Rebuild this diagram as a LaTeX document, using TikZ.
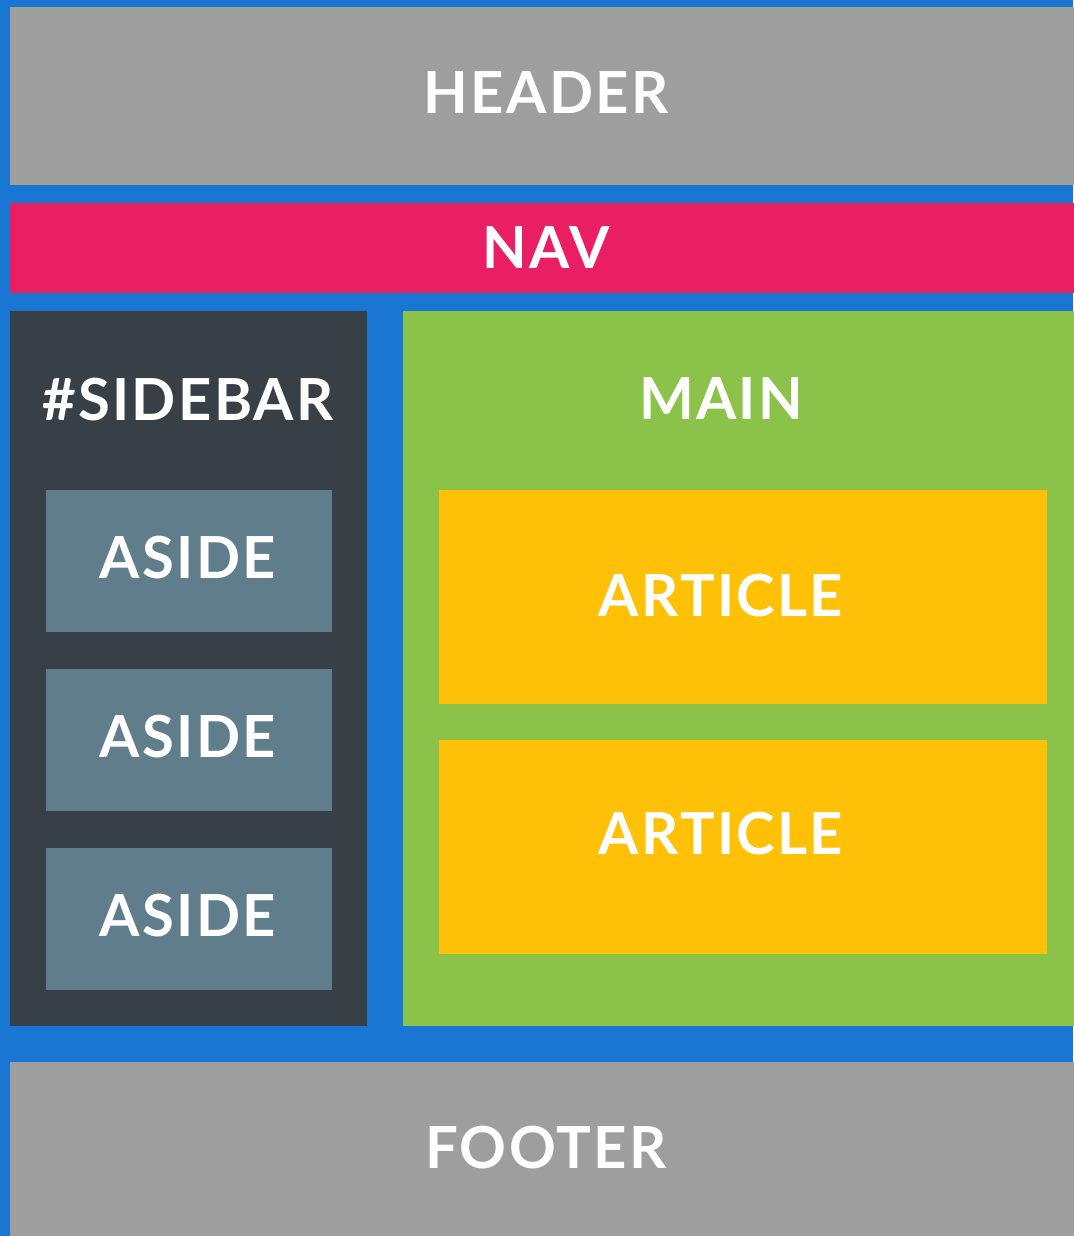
\documentclass[tikz,border=0pt]{standalone}
\usepackage{fontspec}
\setmainfont{Lato}
\newfontfamily\lblfont[LetterSpace=4]{Lato Bold}
\definecolor{bgblue}{HTML}{1976D2}
\definecolor{boxgray}{HTML}{9E9E9E}
\definecolor{navpink}{HTML}{E91E63}
\definecolor{sidedark}{HTML}{373F47}
\definecolor{asidegray}{HTML}{607D8B}
\definecolor{maingreen}{HTML}{8BC34A}
\definecolor{artyellow}{HTML}{FFC107}
\begin{document}
\begin{tikzpicture}[x=1pt,y=-1pt,
  box/.style={draw=none,inner sep=0pt,outer sep=0pt},
  lbl/.style={text=white,font=\fontsize{58}{58}\lblfont,inner sep=0pt,text height=41.5pt,text depth=0pt,anchor=center}]
\fill[bgblue] (0,0) rectangle (1073,1236);
\useasboundingbox (0,0) rectangle (1073,1236);
% boxes
\path[box,fill=boxgray] (10,7) rectangle (1080,185) node[midway] (header) {};
\path[box,fill=navpink] (10,203) rectangle (1080,293) node[midway] (nav) {};
\path[box,fill=sidedark] (10,311) rectangle (367,1026) node[midway] (sidebar) {};
\path[box,fill=maingreen] (403,311) rectangle (1080,1026) node[midway] (main) {};
\path[box,fill=asidegray] (46,490) rectangle (332,632) node[midway] (aside1) {};
\path[box,fill=asidegray] (46,669) rectangle (332,811) node[midway] (aside2) {};
\path[box,fill=asidegray] (46,848) rectangle (332,990) node[midway] (aside3) {};
\path[box,fill=artyellow] (439,490) rectangle (1047,704) node[midway] (article1) {};
\path[box,fill=artyellow] (439,740) rectangle (1047,954) node[midway] (article2) {};
\path[box,fill=boxgray] (10,1062) rectangle (1080,1250) node[midway] (footer) {};
% labels
\node[lbl] (theader) at (546,92.5) {HEADER};
\node[lbl] (tnav) at (546,248) {NAV};
\node[lbl] (tsidebar) at (188,400) {\#SIDEBAR};
\node[lbl] (tmain) at (721,399) {MAIN};
\node[lbl] (taside1) at (188,558) {ASIDE};
\node[lbl] (taside2) at (188,737) {ASIDE};
\node[lbl] (taside3) at (188,916) {ASIDE};
\node[lbl] (tarticle1) at (721,596) {ARTICLE};
\node[lbl] (tarticle2) at (721,834) {ARTICLE};
\node[lbl] (tfooter) at (546,1148) {FOOTER};
\end{tikzpicture}
\end{document}
